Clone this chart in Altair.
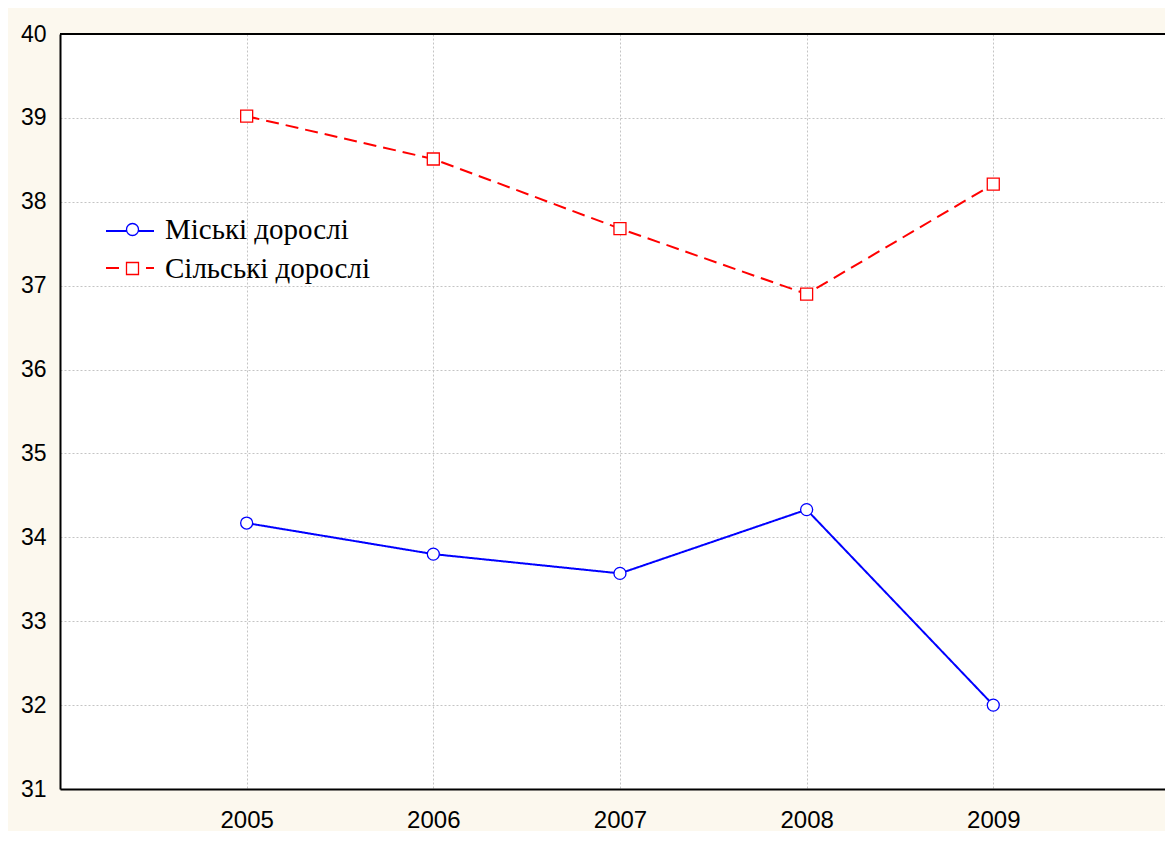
import altair as alt
import pandas as pd

years = [2005, 2006, 2007, 2008, 2009]
urban = [34.17, 33.80, 33.57, 34.33, 32.0]
rural = [39.02, 38.51, 37.68, 36.90, 38.21]
series_names = ["Міські дорослі", "Сільські дорослі"]
line_keys = ["urban_line", "rural_line"]
y_ticks = [31, 32, 33, 34, 35, 36, 37, 38, 39, 40]

rows = []
for name, key, vals in zip(series_names, line_keys, [urban, rural]):
    for yr, v in zip(years, vals):
        rows.append({"year": yr, "value": v, "series": name, "lkey": key})
df = pd.DataFrame(rows)

W, H = 1105, 755
colors = ["#0000FF", "#FF0000"]

x = alt.X("year:Q",
          scale=alt.Scale(domain=[2004, 2009.92], nice=False, zero=False),
          axis=alt.Axis(values=years, format="d", title=None, ticks=False,
                        labelFontSize=24, labelPadding=19, labelColor="black",
                        domainColor="black", domainWidth=2,
                        gridColor="#c4c4c4", gridDash=[2, 2], gridWidth=1,
                        labelFont="Liberation Sans"))
y = alt.Y("value:Q",
          scale=alt.Scale(domain=[31, 40], nice=False, zero=False),
          axis=alt.Axis(values=y_ticks, format="d", title=None, ticks=False,
                        labelFontSize=23, labelPadding=14, labelColor="black",
                        domainColor="black", domainWidth=2,
                        gridColor="#c4c4c4", gridDash=[2, 2], gridWidth=1,
                        labelFont="Liberation Sans"))

# legend of line strokes (no visible labels)
line_legend = alt.Legend(
    orient="none", legendX=63, legendY=190, title=None, padding=0,
    symbolType="M-4,0L4,0", symbolSize=144, symbolStrokeWidth=2,
    labelExpr="''", labelFontSize=1, labelOffset=0,
    rowPadding=26)

# legend of markers with labels
point_legend = alt.Legend(
    orient="none", legendX=58, legendY=181, title=None, padding=0,
    symbolSize=144, symbolStrokeWidth=1.3, symbolFillColor="white",
    labelFont="Liberation Serif", labelFontSize=29, labelColor="black",
    labelOffset=18, rowPadding=9, labelLimit=400)

lines = alt.Chart(df).mark_line(strokeWidth=2).encode(
    x=x, y=y,
    color=alt.Color("lkey:N", scale=alt.Scale(domain=line_keys, range=colors),
                    legend=line_legend),
    strokeDash=alt.StrokeDash("lkey:N",
                              scale=alt.Scale(domain=line_keys, range=[[1, 0], [13, 7]]),
                              legend=line_legend),
)

points = alt.Chart(df).mark_point(filled=False, size=144, strokeWidth=1.3,
                                  fill="white", fillOpacity=1, opacity=1).encode(
    x=x, y=y,
    stroke=alt.Stroke("series:N", scale=alt.Scale(domain=series_names, range=colors),
                      legend=point_legend),
    shape=alt.Shape("series:N", scale=alt.Scale(domain=series_names, range=["circle", "square"]),
                    legend=point_legend),
)

top_border = alt.Chart(pd.DataFrame({"v": [40]})).mark_rule(
    color="black", strokeWidth=2).encode(
    y=alt.datum(40),
    x=alt.value(0), x2=alt.value(W))

chart = alt.layer(lines, points, top_border).properties(
    width=W, height=H,
    autosize=alt.AutoSizeParams(type="none"),
    padding={"left": 52, "top": 26, "right": 0, "bottom": 42},
    background="#FCF8EE",
).configure_view(fill="white", strokeOpacity=0)

chart.save("out.html", embed_options={"renderer": "svg", "actions": False})
